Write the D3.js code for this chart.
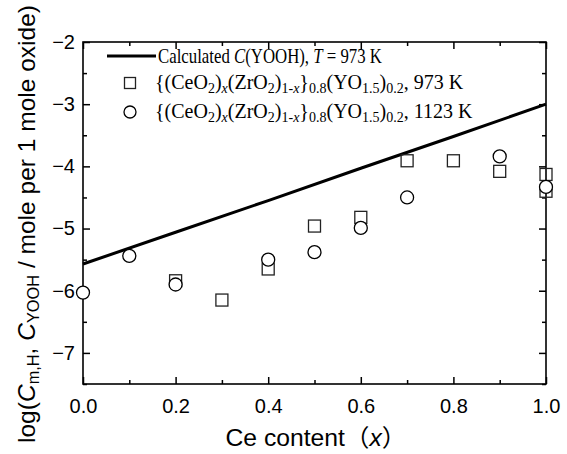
<!DOCTYPE html>
<html>
<head>
<meta charset="utf-8">
<script src="https://cdn.jsdelivr.net/npm/d3@7"></script>
<style>
  body { margin: 0; background: #fff; }
  svg { display: block; }
</style>
</head>
<body>
<div class="chart"></div>
<script>
var w = 567;
var h = 454;

// calculated C(YOOH) at 973 K
var calcX = [0.0, 0.2, 0.4, 0.6, 0.8, 1.0];
var calcY = [-5.57, -5.06, -4.55, -4.03, -3.52, -3.0];

// {(CeO2)x(ZrO2)1-x}0.8(YO1.5)0.2, 973 K
var sqX = [0.2, 0.3, 0.4, 0.5, 0.6, 0.7, 0.8, 0.9, 1.0, 1.0];
var sqY = [-5.84, -6.15, -5.65, -4.96, -4.82, -3.91, -3.91, -4.08, -4.13, -4.40];

// same, 1123 K
var ciX = [0.0, 0.1, 0.2, 0.4, 0.5, 0.6, 0.7, 0.9, 1.0];
var ciY = [-6.03, -5.44, -5.90, -5.50, -5.38, -4.99, -4.50, -3.84, -4.33];

var xTicks = [0, 0.2, 0.4, 0.6, 0.8, 1.0];
var xMinor = [0.1, 0.3, 0.5, 0.7, 0.9];
var yTicks = [-2, -3, -4, -5, -6, -7];
var yMinor = [-2.5, -3.5, -4.5, -5.5, -6.5, -7.5];

// plot box (don't use "top" - it's window.top)
var pL = 83, pR = 546, pT = 42, pB = 384;

var x = d3.scaleLinear().domain([0, 1]).range([pL, pR]);
var y = d3.scaleLinear().domain([-7.5, -2]).range([pB, pT]);

var svg = d3.select(".chart").append("svg")
    .attr("width", w)
    .attr("height", h);

function fmtMinus(d) {
    return d3.format(".0f")(d).replace("-", "\u2212");
}

var sans = "'Liberation Sans', Arial, 'Noto Sans CJK JP', sans-serif";
var serif = "'Liberation Serif', 'Times New Roman', serif";

// axes with inward ticks, all four sides
svg.append("g").attr("transform", "translate(0," + pB + ")")
    .call(d3.axisBottom(x).tickValues(xTicks).tickSizeInner(-7).tickSizeOuter(0).tickPadding(15)
        .tickFormat(d3.format(".1f")));
svg.append("g").attr("transform", "translate(0," + pB + ")")
    .call(d3.axisBottom(x).tickValues(xMinor).tickSizeInner(-4).tickSizeOuter(0).tickFormat(""));
svg.append("g").attr("transform", "translate(0," + pT + ")")
    .call(d3.axisTop(x).tickValues(xTicks).tickSizeInner(-7).tickSizeOuter(0).tickFormat(""));
svg.append("g").attr("transform", "translate(0," + pT + ")")
    .call(d3.axisTop(x).tickValues(xMinor).tickSizeInner(-4).tickSizeOuter(0).tickFormat(""));

svg.append("g").attr("transform", "translate(" + pL + ",0)")
    .call(d3.axisLeft(y).tickValues(yTicks).tickSizeInner(-7).tickSizeOuter(0).tickPadding(8)
        .tickFormat(fmtMinus));
svg.append("g").attr("transform", "translate(" + pL + ",0)")
    .call(d3.axisLeft(y).tickValues(yMinor).tickSizeInner(-4).tickSizeOuter(0).tickFormat(""));
svg.append("g").attr("transform", "translate(" + pR + ",0)")
    .call(d3.axisRight(y).tickValues(yTicks).tickSizeInner(-7).tickSizeOuter(0).tickFormat(""));
svg.append("g").attr("transform", "translate(" + pR + ",0)")
    .call(d3.axisRight(y).tickValues(yMinor).tickSizeInner(-4).tickSizeOuter(0).tickFormat(""));

svg.selectAll(".domain").remove();
svg.selectAll(".tick line").attr("stroke", "#000").attr("stroke-width", 1.5);
svg.selectAll(".tick text")
    .attr("font-family", sans)
    .attr("font-size", "20px")
    .attr("fill", "#000");

// frame
svg.append("rect")
    .attr("x", pL).attr("y", pT)
    .attr("width", pR - pL).attr("height", pB - pT)
    .attr("fill", "none").attr("stroke", "#000").attr("stroke-width", 1.6);

// calculated line
var line = d3.line()
    .x(function(d) { return x(d[0]); })
    .y(function(d) { return y(d[1]); });
svg.append("path")
    .datum(d3.zip(calcX, calcY))
    .attr("d", line)
    .attr("fill", "none")
    .attr("stroke", "#000")
    .attr("stroke-width", 3);

// squares
var s = 12;
svg.selectAll("rect.sq")
    .data(d3.zip(sqX, sqY))
    .enter()
    .append("rect")
    .attr("class", "sq")
    .attr("x", function(d) { return x(d[0]) - s / 2; })
    .attr("y", function(d) { return y(d[1]) - s / 2; })
    .attr("width", s)
    .attr("height", s)
    .attr("fill", "none")
    .attr("stroke", "#222")
    .attr("stroke-width", 1.3);

// circles
svg.selectAll("circle.ci")
    .data(d3.zip(ciX, ciY))
    .enter()
    .append("circle")
    .attr("class", "ci")
    .attr("cx", function(d) { return x(d[0]); })
    .attr("cy", function(d) { return y(d[1]); })
    .attr("r", 6.5)
    .attr("fill", "#fff")
    .attr("stroke", "#000")
    .attr("stroke-width", 1.3);

// legend
var lg = svg.append("g").attr("font-family", serif).attr("font-size", "20px").attr("fill", "#000");
lg.append("line")
    .attr("x1", 107).attr("x2", 156).attr("y1", 56).attr("y2", 56)
    .attr("stroke", "#000").attr("stroke-width", 3);
// first row is a bit narrower in the original, squeeze it
var t1 = lg.append("g").attr("transform", "translate(158,63) scale(0.84,1)")
    .append("text").attr("x", 0).attr("y", 0);
t1.append("tspan").text("Calculated ");
t1.append("tspan").attr("font-style", "italic").text("C");
t1.append("tspan").text("(YOOH), ");
t1.append("tspan").attr("font-style", "italic").text("T");
t1.append("tspan").text(" = 973 K");

lg.append("rect")
    .attr("x", 130 - 5.5).attr("y", 83 - 5.5).attr("width", 11).attr("height", 11)
    .attr("fill", "none").attr("stroke", "#222").attr("stroke-width", 1.3);
lg.append("circle")
    .attr("cx", 130).attr("cy", 112).attr("r", 6)
    .attr("fill", "none").attr("stroke", "#000").attr("stroke-width", 1.3);

function formula(g, yy, temp) {
    var t = g.append("text").attr("x", 155).attr("y", yy);
    var sub = function(str, it) {
        var ts = t.append("tspan").attr("font-size", "14px").attr("baseline-shift", "-28%").text(str);
        if (it) ts.attr("font-style", "italic");
        return ts;
    };
    t.append("tspan").text("{(CeO");
    sub("2");
    t.append("tspan").text(")");
    sub("x", true);
    t.append("tspan").text("(ZrO");
    sub("2");
    t.append("tspan").text(")");
    sub("1-");
    sub("x", true);
    t.append("tspan").text("}");
    sub("0.8");
    t.append("tspan").text("(YO");
    sub("1.5");
    t.append("tspan").text(")");
    sub("0.2");
    t.append("tspan").text(", " + temp);
}
formula(lg, 89, "973 K");
formula(lg, 118, "1123 K");

// axis titles
var xt = svg.append("text")
    .attr("x", 316)
    .attr("y", 446)
    .attr("text-anchor", "middle")
    .attr("font-family", sans)
    .attr("font-size", "24px")
    .attr("textLength", 181).attr("lengthAdjust", "spacingAndGlyphs");
xt.append("tspan").text("Ce content\uFF08");
xt.append("tspan").attr("font-style", "italic").text("x");
xt.append("tspan").text("\uFF09");

var yt = svg.append("text")
    .attr("transform", "translate(35,224) rotate(-90)")
    .attr("text-anchor", "middle")
    .attr("font-family", sans)
    .attr("font-size", "24px")
    .attr("textLength", 438).attr("lengthAdjust", "spacingAndGlyphs");
yt.append("tspan").text("log(");
yt.append("tspan").attr("font-style", "italic").text("C");
yt.append("tspan").attr("font-size", "16px").attr("baseline-shift", "-25%").text("m,H");
yt.append("tspan").text(", ");
yt.append("tspan").attr("font-style", "italic").text("C");
yt.append("tspan").attr("font-size", "16px").attr("baseline-shift", "-25%").text("YOOH");
yt.append("tspan").text(" / mole per 1 mole oxide)");
</script>
</body>
</html>
